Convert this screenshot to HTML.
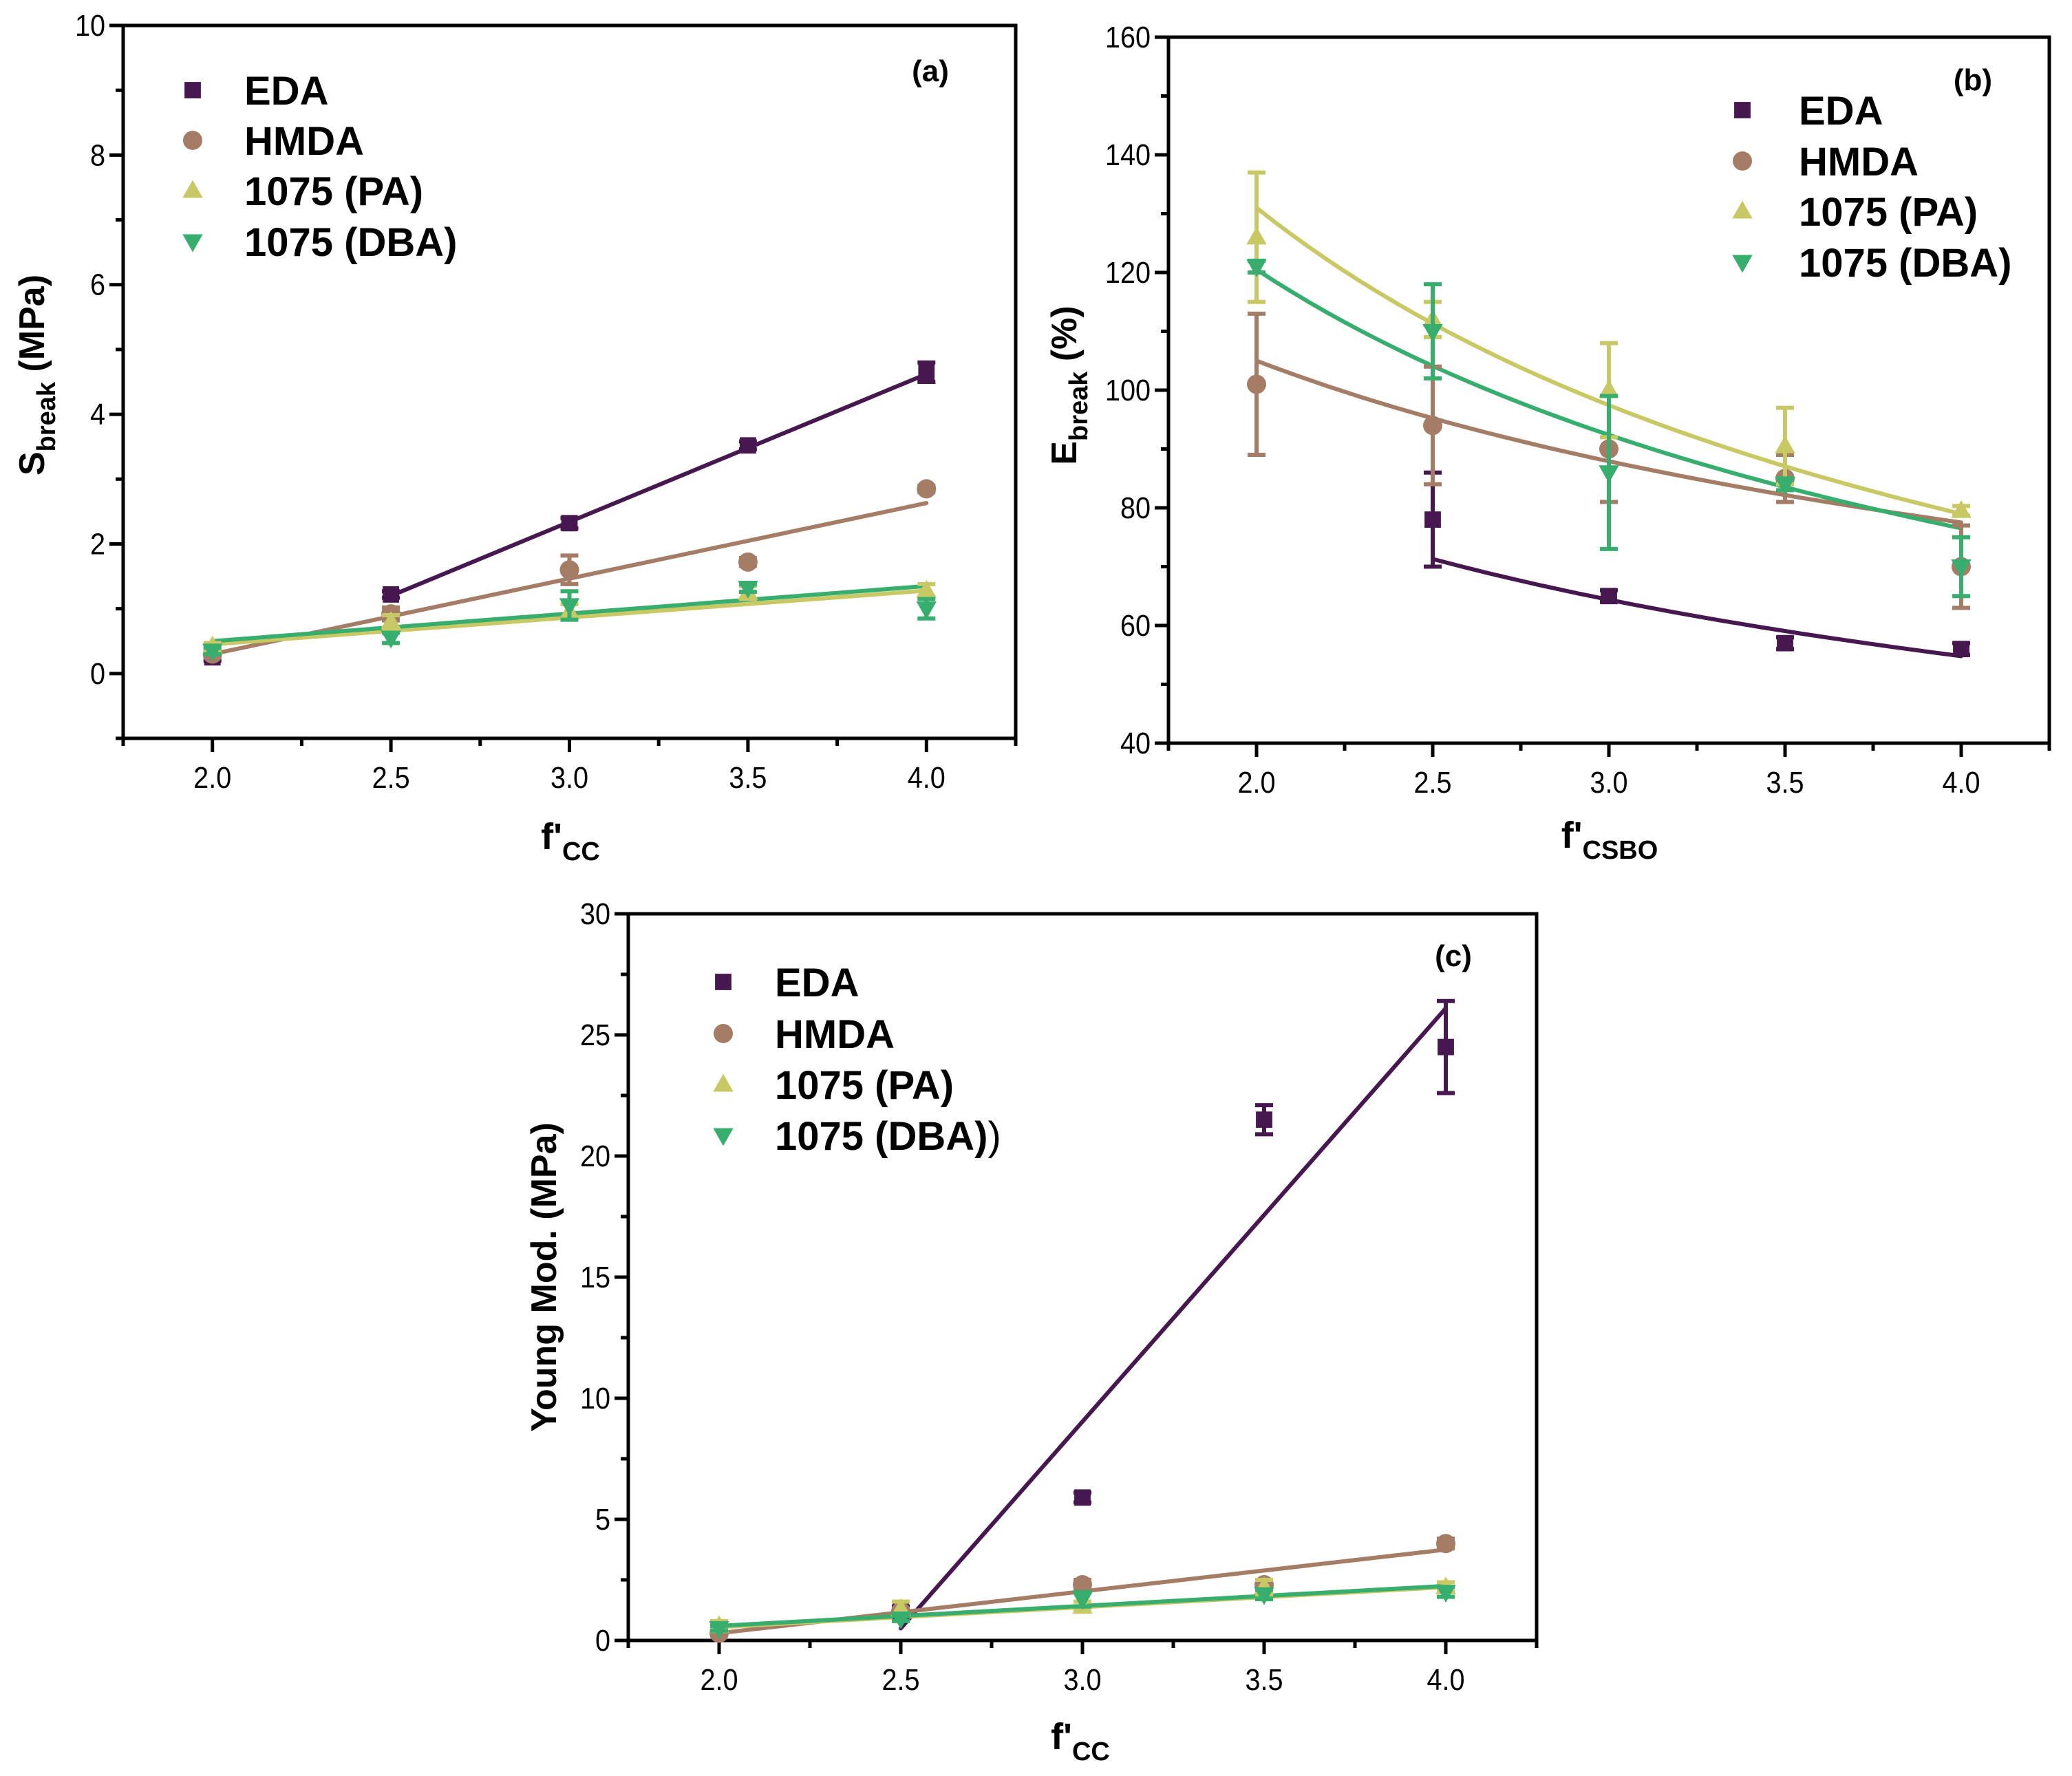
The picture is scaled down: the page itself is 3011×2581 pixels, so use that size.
<!DOCTYPE html>
<html><head><meta charset="utf-8">
<style>
html,body{margin:0;padding:0;background:#fff;}
svg{display:block;font-family:"Liberation Sans",Arial,sans-serif;}
</style></head>
<body>
<svg id="fig" width="3011" height="2581" viewBox="0 0 3011 2581" xmlns="http://www.w3.org/2000/svg"></svg>
<script>
// ---------- data ----------
const xCats = [2.0, 2.5, 3.0, 3.5, 4.0];
const xTickLabels = ["2.0","2.5","3.0","3.5","4.0"];
const seriesNames = ["EDA","HMDA","1075 (PA)","1075 (DBA)"];

// panel (a) S_break
const aEDA  = [0.25, 1.22, 2.32, 3.52, 4.65];
const aHMDA = [0.30, 0.92, 1.60, 1.72, 2.85];
const aPA   = [0.42, 0.80, 0.95, 1.25, 1.28];
const aDBA  = [0.35, 0.55, 1.05, 1.32, 1.00];
const aErrEDA  = [0.05, 0.05, 0.08, 0.06, 0.15];
const aErrHMDA = [0.05, 0.10, 0.22, 0.06, 0.05];
const aErrPA   = [0.05, 0.10, 0.12, 0.10, 0.10];
const aErrDBA  = [0.05, 0.08, 0.22, 0.06, 0.15];
// linear fits: [xStart, yStart, xEnd, yEnd]
const aFitEDA  = [2.5, 1.20, 4.0, 4.62];
const aFitHMDA = [2.0, 0.30, 4.0, 2.63];
const aFitPA   = [2.0, 0.45, 4.0, 1.28];
const aFitDBA  = [2.0, 0.50, 4.0, 1.35];
const aYTicks = [0, 2, 4, 6, 8, 10];

// panel (b) E_break
const bEDA  = [null, 78, 65, 57, 56];
const bHMDA = [101, 94, 90, 85, 70];
const bPA   = [126, 112, 100, 90.5, 79.5];
const bDBA  = [121, 110, 86, 84, 70];
const bErrEDA  = [0, 8, 1, 1, 1];
const bErrHMDA = [12, 10, 9, 4, 7];
const bErrPA   = [11, 3, 8, 6.5, 0.8];
const bErrDBA  = [1, 8, 13, 1, 5];
// power fits y = a*(x/x0)^b : [x0, a, b, xStart, xEnd]
const bFitEDA  = [2.5, 71.3, -0.56, 2.5, 4.0];
const bFitHMDA = [2.0, 105, -0.438, 2.0, 4.0];
const bFitPA   = [2.0, 131, -0.73, 2.0, 4.0];
const bFitDBA  = [2.0, 120.5, -0.655, 2.0, 4.0];
const bYTicks = [40, 60, 80, 100, 120, 140, 160];

// panel (c) Young modulus
const cEDA  = [null, 1.2, 5.9, 21.5, 24.5];
const cHMDA = [0.3, 1.2, 2.3, 2.3, 4.0];
const cPA   = [0.6, 1.3, 1.4, 2.2, 2.2];
const cDBA  = [0.5, 0.9, 1.7, 1.9, 2.0];
const cErrEDA  = [0, 0.2, 0.2, 0.6, 1.9];
const cErrHMDA = [0.1, 0.1, 0.2, 0.2, 0.2];
const cErrPA   = [0.2, 0.3, 0.2, 0.3, 0.2];
const cErrDBA  = [0.1, 0.1, 0.3, 0.2, 0.2];
const cFitEDA  = [2.5, 0.5, 4.0, 26.1];
const cFitHMDA = [2.0, 0.3, 4.0, 3.75];
const cFitPA   = [2.0, 0.55, 4.0, 2.2];
const cFitDBA  = [2.0, 0.6, 4.0, 2.25];
const cYTicks = [0, 5, 10, 15, 20, 25, 30];

const COLORS = ["#46184f", "#a57c66", "#c8c864", "#37ae6e"];
const SHAPES = ["square", "circle", "tri", "itri"];
const NS = "http://www.w3.org/2000/svg";
const svg = document.getElementById("fig");

function mk(tag, attrs, parent) {
  const e = document.createElementNS(NS, tag);
  for (const k in attrs) e.setAttribute(k, attrs[k]);
  (parent || svg).appendChild(e);
  return e;
}

function marker(g, shape, cx, cy, color, s) {
  let e;
  if (shape === "square") e = mk("rect", {x: cx - s*0.85, y: cy - s*0.85, width: s*1.7, height: s*1.7, fill: color}, g);
  else if (shape === "circle") e = mk("circle", {cx: cx, cy: cy, r: s, fill: color}, g);
  else if (shape === "tri") e = mk("polygon", {points: `${cx},${cy - s*1.1} ${cx - s*1.05},${cy + s*0.75} ${cx + s*1.05},${cy + s*0.75}`, fill: color}, g);
  else e = mk("polygon", {points: `${cx},${cy + s*1.1} ${cx - s*1.05},${cy - s*0.75} ${cx + s*1.05},${cy - s*0.75}`, fill: color}, g);
  return e;
}

function panel(cfg) {
  const g = mk("g", {});
  
  
  const L = cfg.L, R = cfg.R, T = cfg.T, B = cfg.B;
  const xs = v => L + (v - 1.75) / 2.5 * (R - L);
  const ys = v => B - (v - cfg.ymin) / (cfg.ymax - cfg.ymin) * (B - T);

  const frame = mk("rect", {x: L, y: T, width: R - L, height: B - T, fill: "none", stroke: "#000", "stroke-width": 5}, g);
  
  

  for (let v = 1.75; v <= 4.2501; v += 0.25) {
    const major = Math.abs((v * 2) - Math.round(v * 2)) < 1e-6 && v >= 2 - 1e-6;
    const t = mk("line", {x1: xs(v), x2: xs(v), y1: B, y2: B + (major ? 20 : 11), stroke: "#000", "stroke-width": 5}, g);
    
    
  }
  xCats.forEach((v, i) => {
    const t = mk("text", {x: xs(v), y: B + 72, "font-size": 44, "text-anchor": "middle", fill: "#000", transform: `translate(${xs(v)},0) scale(0.9,1) translate(${-xs(v)},0)`}, g);
    t.textContent = xTickLabels[i];
    
    
  });
  const step = cfg.yTicks[1] - cfg.yTicks[0];
  for (let v = cfg.ymin; v <= cfg.ymax + 1e-6; v += step / 2) {
    const major = cfg.yTicks.some(t => Math.abs(t - v) < 1e-6);
    const t = mk("line", {x1: L, x2: L - (major ? 20 : 11), y1: ys(v), y2: ys(v), stroke: "#000", "stroke-width": 5}, g);
    
    
  }
  cfg.yTicks.forEach(v => {
    const xx = L - 26;
    const t = mk("text", {x: xx, y: ys(v) + 15, "font-size": 44, "text-anchor": "end", fill: "#000", transform: `translate(${xx},0) scale(0.9,1) translate(${-xx},0)`}, g);
    t.textContent = String(v);
    
    
  });

  cfg.fits.forEach((f, si) => {
    let d;
    if (cfg.power) {
      const pts = [];
      for (let k = 0; k <= 40; k++) {
        const x = f[3] + (f[4] - f[3]) * k / 40;
        pts.push(`${xs(x).toFixed(1)},${ys(f[1] * Math.pow(x / f[0], f[2])).toFixed(1)}`);
      }
      d = "M" + pts.join(" L");
    } else {
      d = `M${xs(f[0])},${ys(f[1])} L${xs(f[2])},${ys(f[3])}`;
    }
    const p = mk("path", {d: d, fill: "none", stroke: COLORS[si], "stroke-width": 6, "stroke-linecap": "round"}, g);
    
    
  });

  cfg.series.forEach((vals, si) => {
    vals.forEach((v, i) => {
      if (v === null) return;
      const x = xs(xCats[i]);
      const e = cfg.errs[si][i];
      if (e > 0) {
        const eg = mk("path", {d: `M${x},${ys(v + e)} L${x},${ys(v - e)} M${x - 13},${ys(v + e)} L${x + 13},${ys(v + e)} M${x - 13},${ys(v - e)} L${x + 13},${ys(v - e)}`, stroke: COLORS[si], "stroke-width": 6, fill: "none"}, g);
        
        
      }
      const m = marker(g, SHAPES[si], x, ys(v), COLORS[si], 14);
      
      
    });
  });

  cfg.legendRows.forEach((ry, si) => {
    const m = marker(g, SHAPES[si], cfg.legMX, ry, COLORS[si], 14);
    
    
    const t = mk("text", {x: cfg.legTX, y: ry + 21, "font-size": 58, "font-weight": "bold", fill: "#000"}, g);
    t.textContent = (si === 3 && cfg.extraParen) ? "1075 (DBA)" : seriesNames[si];
    if (si === 3 && cfg.extraParen) {
      const ts = mk("tspan", {"font-weight": "normal"}, t);
      ts.textContent = ")";
    }
    
    
  });
  const pl = mk("text", {x: cfg.labX, y: cfg.labY, "font-size": 44, "font-weight": "bold", "text-anchor": "middle"}, g);
  pl.textContent = cfg.label;
  
  

  const xt = mk("text", {x: cfg.xtX, y: cfg.xtY, "font-size": 54, "font-weight": "bold", "text-anchor": "middle"}, g);
  xt.innerHTML = cfg.xTitle;
  
  
  const yt = mk("text", {x: 0, y: 0, "font-size": 52, "font-weight": "bold", "text-anchor": "middle", transform: `translate(${cfg.ytX},${cfg.ytY}) rotate(-90)`}, g);
  yt.innerHTML = cfg.yTitle;
  
  
}

panel({name: "panel-a-strength", L: 179, R: 1476, T: 37, B: 1073, ymin: -1, ymax: 10, yTicks: aYTicks,
  series: [aEDA, aHMDA, aPA, aDBA], errs: [aErrEDA, aErrHMDA, aErrPA, aErrDBA],
  fits: [aFitEDA, aFitHMDA, aFitPA, aFitDBA],
  legMX: 280, legTX: 355, legendRows: [131, 204, 277, 351], label: "(a)", labX: 1352, labY: 118,
  xtX: 829, xtY: 1234, xTitle: 'f\'<tspan font-size="38" dy="16">CC</tspan>',
  ytX: 64, ytY: 545, yTitle: 'S<tspan font-size="38" dy="16">break</tspan><tspan dy="-16"> (MPa)</tspan>'});

panel({name: "panel-b-elongation", L: 1698, R: 2978, T: 54, B: 1080, ymin: 40, ymax: 160, yTicks: bYTicks, power: true,
  series: [bEDA, bHMDA, bPA, bDBA], errs: [bErrEDA, bErrHMDA, bErrPA, bErrDBA],
  fits: [bFitEDA, bFitHMDA, bFitPA, bFitDBA],
  legMX: 2532, legTX: 2614, legendRows: [160, 234, 307, 381], label: "(b)", labX: 2867, labY: 131,
  xtX: 2339, xtY: 1232, xTitle: 'f\'<tspan font-size="38" dy="16">CSBO</tspan>',
  ytX: 1564, ytY: 560, yTitle: 'E<tspan font-size="38" dy="16">break</tspan><tspan dy="-16"> (%)</tspan>'});

panel({name: "panel-c-young-modulus", L: 913, R: 2233, T: 1328, B: 2384, ymin: 0, ymax: 30, yTicks: cYTicks,
  series: [cEDA, cHMDA, cPA, cDBA], errs: [cErrEDA, cErrHMDA, cErrPA, cErrDBA],
  fits: [cFitEDA, cFitHMDA, cFitPA, cFitDBA], extraParen: true,
  legMX: 1051, legTX: 1126, legendRows: [1427, 1502, 1576, 1650], label: "(c)", labX: 2112, labY: 1404,
  xtX: 1570, xtY: 2542, xTitle: 'f\'<tspan font-size="38" dy="16">CC</tspan>',
  ytX: 808, ytY: 1856, yTitle: 'Young Mod. (MPa)'});
</script>
</body></html>
